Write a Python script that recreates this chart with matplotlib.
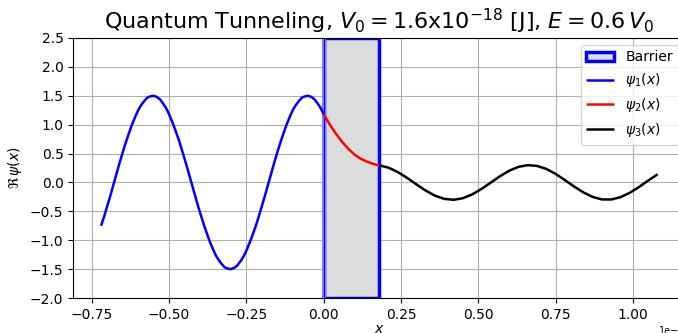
import numpy as np
import matplotlib
matplotlib.use("Agg")
import matplotlib.pyplot as plt
from matplotlib.patches import Rectangle

# barrier width (nm) and plot range
a_nm = 0.18
y_limits = (-2.0, 2.5)

# region 1 (x < 0): incident + reflected wave
x1 = [-0.72, -0.71, -0.70, -0.69, -0.68, -0.67, -0.66, -0.65, -0.64, -0.63,
      -0.62, -0.61, -0.60, -0.59, -0.58, -0.57, -0.56, -0.55, -0.54, -0.53,
      -0.52, -0.51, -0.50, -0.49, -0.48, -0.47, -0.46, -0.45, -0.44, -0.43,
      -0.42, -0.41, -0.40, -0.39, -0.38, -0.37, -0.36, -0.35, -0.34, -0.33,
      -0.32, -0.31, -0.30, -0.29, -0.28, -0.27, -0.26, -0.25, -0.24, -0.23,
      -0.22, -0.21, -0.20, -0.19, -0.18, -0.17, -0.16, -0.15, -0.14, -0.13,
      -0.12, -0.11, -0.10, -0.09, -0.08, -0.07, -0.06, -0.05, -0.04, -0.03,
      -0.02, -0.01, 0.00]
psi1 = [-0.75, -0.59, -0.41, -0.23, -0.04, 0.15, 0.34, 0.52, 0.69, 0.85,
        1.00, 1.13, 1.25, 1.34, 1.41, 1.47, 1.49, 1.50, 1.48, 1.44,
        1.37, 1.29, 1.18, 1.05, 0.91, 0.76, 0.59, 0.41, 0.23, 0.04,
        -0.15, -0.34, -0.52, -0.69, -0.85, -1.00, -1.13, -1.25, -1.34, -1.41,
        -1.47, -1.49, -1.50, -1.48, -1.44, -1.37, -1.29, -1.18, -1.05, -0.91,
        -0.76, -0.59, -0.41, -0.23, -0.04, 0.15, 0.34, 0.52, 0.69, 0.85,
        1.00, 1.13, 1.25, 1.34, 1.41, 1.47, 1.49, 1.50, 1.48, 1.44,
        1.37, 1.29, 1.18]

# region 2 (inside the barrier): decaying part
x2 = [0.00, 0.02, 0.04, 0.06, 0.08, 0.10, 0.12, 0.14, 0.16, 0.18]
psi2 = [1.18, 1.00, 0.84, 0.70, 0.58, 0.48, 0.41, 0.36, 0.32, 0.295]

# region 3 (x > a): transmitted wave
x3 = [0.18, 0.21, 0.24, 0.27, 0.30, 0.33, 0.36, 0.39, 0.42, 0.45,
      0.48, 0.51, 0.54, 0.57, 0.60, 0.63, 0.66, 0.69, 0.72, 0.75,
      0.78, 0.81, 0.84, 0.87, 0.90, 0.93, 0.96, 0.99, 1.02, 1.05, 1.08]
psi3 = [0.295, 0.255, 0.179, 0.078, -0.034, -0.141, -0.229, -0.284, -0.300, -0.273,
        -0.208, -0.114, -0.004, 0.107, 0.203, 0.270, 0.299, 0.286, 0.234, 0.148,
        0.041, -0.071, -0.173, -0.251, -0.294, -0.295, -0.255, -0.179, -0.078, 0.034, 0.141]

nm = 1e-9

fig = plt.figure(figsize=(6.78, 3.33), dpi=100)
ax = fig.add_axes([0.108, 0.105, 0.903, 0.781])

barrier = Rectangle((0, y_limits[0]), a_nm * nm, y_limits[1] - y_limits[0],
                    facecolor='#dcdcdc', edgecolor='blue', linewidth=2.5,
                    label='Barrier', zorder=1)
ax.add_patch(barrier)
# left edge looks lighter in the original
ax.axvline(0, color='#8080ff', lw=3, zorder=1.5)
ax.axvline(0, color='blue', lw=0.8, zorder=1.6)

line_kw = dict(lw=1.8, solid_joinstyle='round', solid_capstyle='butt', zorder=3)
ax.plot(np.array(x1) * nm, psi1, color='blue', label=r'$\psi_1(x)$', **line_kw)
ax.plot(np.array(x2) * nm, psi2, color='red', label=r'$\psi_2(x)$', **line_kw)
ax.plot(np.array(x3) * nm, psi3, color='black', label=r'$\psi_3(x)$', **line_kw)

ax.set_ylim(*y_limits)
ax.grid(True)
ax.set_axisbelow(True)
ax.set_xlabel(r'$x$', labelpad=0)
ax.set_ylabel(r'$\Re\,\psi(x)$')
ax.set_title(r'Quantum Tunneling, $V_0 = 1.6$x$10^{-18}$ [J], $E = 0.6\,V_0$', fontsize=16)
ax.xaxis.get_offset_text().set_fontsize(7)
ax.legend(loc='upper right')

fig.savefig('out.png', dpi=100)
